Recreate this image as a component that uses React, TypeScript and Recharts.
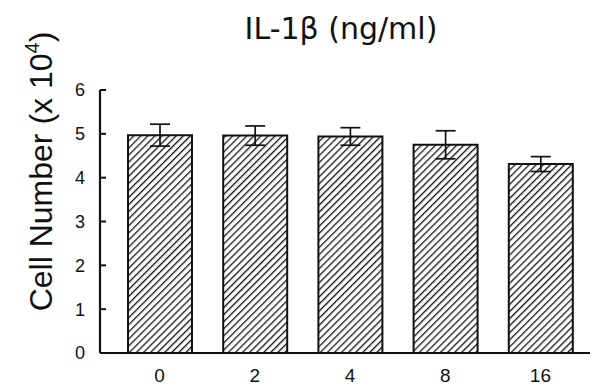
import React from 'react';
import { BarChart, Bar, XAxis, YAxis, ErrorBar, Label } from 'recharts';

// IL-1β dose (ng/ml) on the x axis
const doses = ['0', '2', '4', '8', '16'];
// mean cell number (x 10^4)
const cellCounts = [4.97, 4.96, 4.94, 4.75, 4.31];
// standard error of each mean
const errors = [0.25, 0.22, 0.2, 0.32, 0.17];
const yTicks = [0, 1, 2, 3, 4, 5, 6];

const data = doses.map((dose, i) => ({ dose, cells: cellCounts[i], err: errors[i] }));

const INK = '#111';
const SANS = "'Liberation Sans', Arial, sans-serif";

const YTitle = (props: any) => {
  const vb = props.viewBox || {};
  const cx = 52;
  const cy = vb.y + vb.height / 2 - 50;
  return (
    <text
      x={cx}
      y={cy}
      transform={`rotate(-90 ${cx} ${cy})`}
      textAnchor="middle"
      fill={INK}
      fontFamily={SANS}
      fontSize={32}
    >
      Cell Number (x 10
      <tspan fontSize={20} dy={-13}>4</tspan>
      <tspan dy={13}>)</tspan>
    </text>
  );
};

export default function App() {
  return (
    <div style={{ position: 'absolute', left: 0, top: 0, width: 592, height: 388, background: '#fff' }}>
      <div
        style={{
          position: 'absolute',
          left: 200,
          width: 282,
          top: 11,
          textAlign: 'center',
          fontFamily: "'DejaVu Sans', Verdana, sans-serif",
          fontSize: 30,
          color: INK,
          lineHeight: '36px',
        }}
      >
        IL-1β (ng/ml)
      </div>
      <BarChart
        width={592}
        height={388}
        data={data}
        margin={{ top: 90, right: 2, bottom: 0, left: 0 }}
        barCategoryGap={31}
      >
        <defs>
          <pattern id="hatch" patternUnits="userSpaceOnUse" width={5} height={5} patternTransform="rotate(45)">
            <rect width={5} height={5} fill="#fff" />
            <line x1={0} y1={0} x2={0} y2={5} stroke={INK} strokeWidth={2.6} />
          </pattern>
        </defs>
        <XAxis
          dataKey="dose"
          height={35}
          padding={{ left: 12, right: 2 }}
          tickLine={false}
          tickSize={0}
          tickMargin={16}
          axisLine={{ stroke: INK, strokeWidth: 2.2 }}
          tick={{ fill: INK, fontSize: 19, fontFamily: SANS }}
        />
        <YAxis
          width={100}
          domain={[0, 6]}
          ticks={yTicks}
          interval={0}
          tickSize={-6}
          tickMargin={21}
          axisLine={{ stroke: INK, strokeWidth: 2.2 }}
          tickLine={{ stroke: INK, strokeWidth: 2 }}
          tick={{ fill: INK, fontSize: 18, fontFamily: SANS }}
        >
          <Label content={YTitle} />
        </YAxis>
        <Bar
          dataKey="cells"
          fill="url(#hatch)"
          stroke={INK}
          strokeWidth={2}
          barSize={64}
          isAnimationActive={false}
        >
          <ErrorBar dataKey="err" width={10} stroke={INK} strokeWidth={1.7} direction="y" />
        </Bar>
      </BarChart>
    </div>
  );
}
